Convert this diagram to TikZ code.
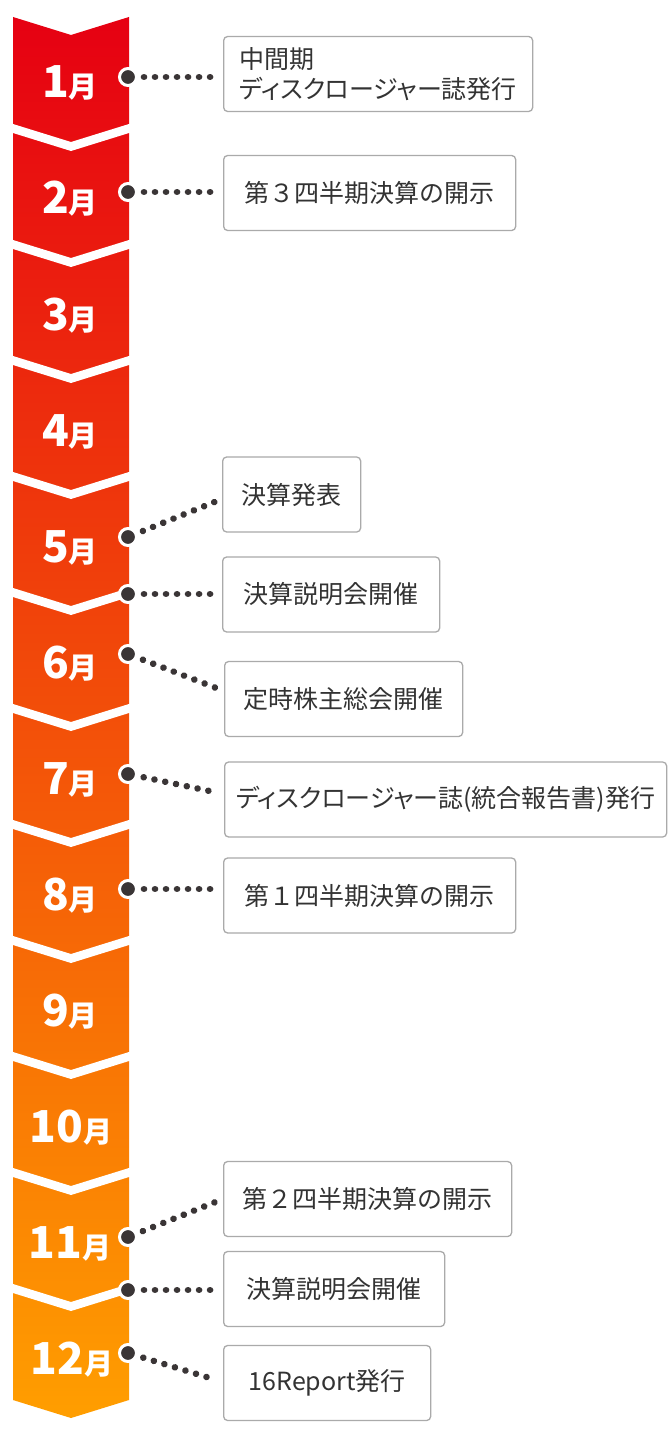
\documentclass[tikz,border=0pt]{standalone}
\usepackage{fontspec}
\setmainfont{Noto Sans CJK JP}
\newfontfamily\kanafont{Noto Sans CJK JP}[RawFeature=+palt]
\usetikzlibrary{calc}

\definecolor{bandtop}{RGB}{230,0,18}
\definecolor{bandmid}{RGB}{240,84,12}
\definecolor{bandbot}{RGB}{255,158,0}
\definecolor{dotgray}{RGB}{58,53,54}
\definecolor{boxline}{RGB}{170,170,170}
\definecolor{boxtext}{RGB}{51,51,51}

\newcommand{\tsuki}{{\fontsize{29}{29}\selectfont 月}}

\tikzset{
  bandgap/.style={draw=white, line width=8.6pt, line join=miter},
  monthlabel/.style={anchor=base, text=white, inner sep=0pt,
    font=\bfseries\fontsize{44}{44}\selectfont},
  knob/.style={circle, fill=dotgray, draw=white, line width=3pt,
    minimum size=17pt, inner sep=0pt},
  eventbox/.style={anchor=west, draw=boxline, line width=1.3pt,
    rounded corners=4pt, fill=white, text=boxtext, inner sep=0pt,
    minimum height=75pt, font=\fontsize{25}{30}\selectfont},
  dotline/.style={draw=dotgray, line width=6.6pt, line cap=round,
    dash pattern=on 0.01pt off 11pt, shorten >=7pt},
}

\begin{document}
\begin{tikzpicture}[x=1pt, y=-1pt]

\fill[white] (0,0) rectangle (670,1450);
\useasboundingbox (0,0) rectangle (670,1450);

% --- Banda de meses ---
\shade[top color=bandtop, middle color=bandmid, bottom color=bandbot]
  (13,17) -- (71,35) -- (129,17) -- (129,1400) -- (71,1418) -- (13,1400) -- cycle;

% cortes blancos entre meses
\draw[bandgap] (71,146.5) +(-68,-21.1) -- +(0,0) -- +(68,-21.1);
\draw[bandgap] (71,262.5) +(-68,-21.1) -- +(0,0) -- +(68,-21.1);
\draw[bandgap] (71,378.5) +(-68,-21.1) -- +(0,0) -- +(68,-21.1);
\draw[bandgap] (71,494.5) +(-68,-21.1) -- +(0,0) -- +(68,-21.1);
\draw[bandgap] (71,610.5) +(-68,-21.1) -- +(0,0) -- +(68,-21.1);
\draw[bandgap] (71,726.5) +(-68,-21.1) -- +(0,0) -- +(68,-21.1);
\draw[bandgap] (71,842.5) +(-68,-21.1) -- +(0,0) -- +(68,-21.1);
\draw[bandgap] (71,958.5) +(-68,-21.1) -- +(0,0) -- +(68,-21.1);
\draw[bandgap] (71,1074.5) +(-68,-21.1) -- +(0,0) -- +(68,-21.1);
\draw[bandgap] (71,1190.5) +(-68,-21.1) -- +(0,0) -- +(68,-21.1);
\draw[bandgap] (71,1306.5) +(-68,-21.1) -- +(0,0) -- +(68,-21.1);

% etiquetas de los meses
\node[monthlabel] (m1) at (70,98) {1\tsuki};
\node[monthlabel] (m2) at (70,214) {2\tsuki};
\node[monthlabel] (m3) at (70,330) {3\tsuki};
\node[monthlabel] (m4) at (70,446) {4\tsuki};
\node[monthlabel] (m5) at (70,562) {5\tsuki};
\node[monthlabel] (m6) at (70,678) {6\tsuki};
\node[monthlabel] (m7) at (70,794) {7\tsuki};
\node[monthlabel] (m8) at (70,910) {8\tsuki};
\node[monthlabel] (m9) at (70,1026) {9\tsuki};
\node[monthlabel] (m10) at (71,1142) {10\tsuki};
\node[monthlabel] (m11) at (70,1258) {11\tsuki};
\node[monthlabel] (m12) at (72,1374) {12\tsuki};

% --- Eventos ---
\node[eventbox, minimum width=309pt, align=left,
  font=\kanafont\fontsize{25}{30}\selectfont] (b1) at (223,74)
  {中間期\\ディスクロージャー誌発行};
\node[eventbox, minimum width=292pt] (b2) at (223,193) {第３四半期決算の開示};
\node[eventbox, minimum width=138pt] (b3) at (222,494.5) {決算発表};
\node[eventbox, minimum width=217pt] (b4) at (222,594.5) {決算説明会開催};
\node[eventbox, minimum width=238pt] (b5) at (224,699) {定時株主総会開催};
\node[eventbox, minimum width=442pt,
  font=\kanafont\fontsize{25}{30}\selectfont] (b6) at (224,799.5)
  {ディスクロージャー誌(統合報告書)発行};
\node[eventbox, minimum width=292pt] (b7) at (223,895.5) {第１四半期決算の開示};
\node[eventbox, minimum width=288pt] (b8) at (223,1199) {第２四半期決算の開示};
\node[eventbox, minimum width=221pt] (b9) at (223,1289) {決算説明会開催};
\node[eventbox, minimum width=207pt] (b10) at (223,1383) {16Report発行};

% --- Conectores punteados ---
\coordinate (e5) at ($(b3.west)+(0,4.5)$);
\coordinate (e6) at ($(b5.west)+(0,-8)$);
\coordinate (e7) at ($(b6.west)+(0,-5.5)$);
\coordinate (e11) at (b8.west);
\coordinate (e12) at ($(b10.west)+(0,-1)$);

\node[knob] (p1) at (128,77) {};
\node[knob] (p2) at (128,192) {};
\node[knob] (p5) at (128,537) {};
\node[knob] (p56) at (128,594) {};
\node[knob] (p6) at (128,654) {};
\node[knob] (p7) at (128,774) {};
\node[knob] (p8) at (128,889) {};
\node[knob] (p11) at (128,1237) {};
\node[knob] (p1112) at (128,1290) {};
\node[knob] (p12) at (128,1353) {};

\draw[dotline] ($(p1)+(16,0)$) -- (p1 -| b1.west);
\draw[dotline] ($(p2)+(16,0)$) -- (p2 -| b2.west);
\draw[dotline] ($(p5)!16pt!(e5)$) -- (e5);
\draw[dotline] ($(p56)+(16,0)$) -- (p56 -| b4.west);
\draw[dotline] ($(p6)!16pt!(e6)$) -- (e6);
\draw[dotline] ($(p7)!16pt!(e7)$) -- (e7);
\draw[dotline] ($(p8)+(16,0)$) -- (p8 -| b7.west);
\draw[dotline] ($(p11)!16pt!(e11)$) -- (e11);
\draw[dotline] ($(p1112)+(16,0)$) -- (p1112 -| b9.west);
\draw[dotline] ($(p12)!16pt!(e12)$) -- (e12);

\end{tikzpicture}
\end{document}
